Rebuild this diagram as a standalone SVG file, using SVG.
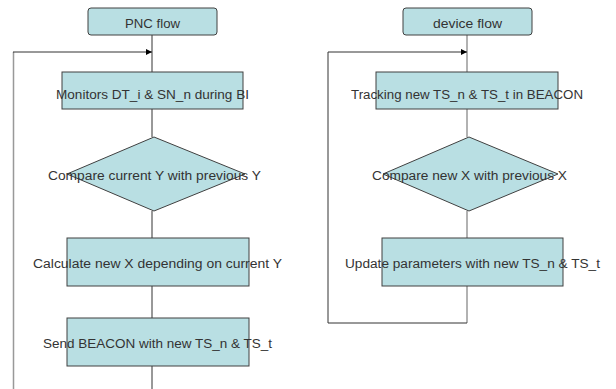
<svg xmlns="http://www.w3.org/2000/svg" width="616" height="389" viewBox="0 0 616 389">
<style>
.box{fill:#b9dfe3;stroke:#404040;stroke-width:1}
.t{font-family:"Liberation Sans",Arial,sans-serif;font-size:12.5px;fill:#333;text-anchor:middle}
.ln{fill:none;stroke:#333;stroke-width:1}
.lg{fill:none;stroke:#999;stroke-width:1.5}
</style>
<defs>
<marker id="ah" viewBox="0 0 10 10" refX="10" refY="5" markerWidth="6" markerHeight="6" markerUnits="userSpaceOnUse" orient="auto">
<path d="M0,0 L10,5 L0,10 z" fill="#000"/>
</marker>
</defs>
<g id="connectors">
<line class="ln" x1="152" y1="35" x2="152" y2="72"/>
<line class="ln" x1="152" y1="109" x2="152" y2="137"/>
<line class="ln" x1="152" y1="211" x2="152" y2="238"/>
<line class="ln" x1="152" y1="286" x2="152" y2="318"/>
<line class="ln" x1="152" y1="366" x2="152" y2="389"/>
<line class="lg" x1="13.5" y1="52" x2="13.5" y2="389"/>
<polyline class="ln" points="13,52 152,52" marker-end="url(#ah)"/>
<line class="lg" x1="467" y1="35" x2="467" y2="72"/>
<line class="lg" x1="467" y1="109" x2="467" y2="137"/>
<line class="lg" x1="467" y1="211" x2="467" y2="238"/>
<line class="lg" x1="467" y1="286" x2="467" y2="323"/>
<polyline class="ln" points="467,323 328,323 328,52 467,52" marker-end="url(#ah)"/>
</g>
<g id="pnc-flow">
<rect class="box" x="88" y="8" width="129" height="27" rx="3"/>
<text class="t" x="152.5" y="27.5" textLength="55" lengthAdjust="spacingAndGlyphs">PNC flow</text>
</g>
<g id="monitors">
<rect class="box" x="62" y="72" width="181" height="37"/>
<text class="t" x="152.5" y="98.5" textLength="193" lengthAdjust="spacingAndGlyphs">Monitors DT_i &amp; SN_n during BI</text>
</g>
<g id="compare-y">
<polygon class="box" points="154,137 245,174 154,211 67,174"/>
<text class="t" x="154.5" y="179.5" textLength="213" lengthAdjust="spacingAndGlyphs">Compare current Y with previous Y</text>
</g>
<g id="calculate">
<rect class="box" x="67" y="238" width="182" height="48"/>
<text class="t" x="157.5" y="267.5" textLength="249" lengthAdjust="spacingAndGlyphs">Calculate new X depending on current Y</text>
</g>
<g id="send">
<rect class="box" x="67" y="318" width="182" height="48"/>
<text class="t" x="157.5" y="347.5" textLength="229" lengthAdjust="spacingAndGlyphs">Send BEACON with new TS_n &amp; TS_t</text>
</g>
<g id="device-flow">
<rect class="box" x="403" y="8" width="129" height="27" rx="3"/>
<text class="t" x="467.5" y="27.5" textLength="69" lengthAdjust="spacingAndGlyphs">device flow</text>
</g>
<g id="tracking">
<rect class="box" x="376" y="72" width="182" height="37"/>
<text class="t" x="467" y="98.5" textLength="232" lengthAdjust="spacingAndGlyphs">Tracking new TS_n &amp; TS_t in BEACON</text>
</g>
<g id="compare-x">
<polygon class="box" points="469,137 558,174 469,211 383,174"/>
<text class="t" x="469.5" y="179.5" textLength="195" lengthAdjust="spacingAndGlyphs">Compare new X with previous X</text>
</g>
<g id="update">
<rect class="box" x="382" y="238" width="181" height="48"/>
<text class="t" x="472.5" y="267.5" textLength="255" lengthAdjust="spacingAndGlyphs">Update parameters with new TS_n &amp; TS_t</text>
</g>
</svg>
